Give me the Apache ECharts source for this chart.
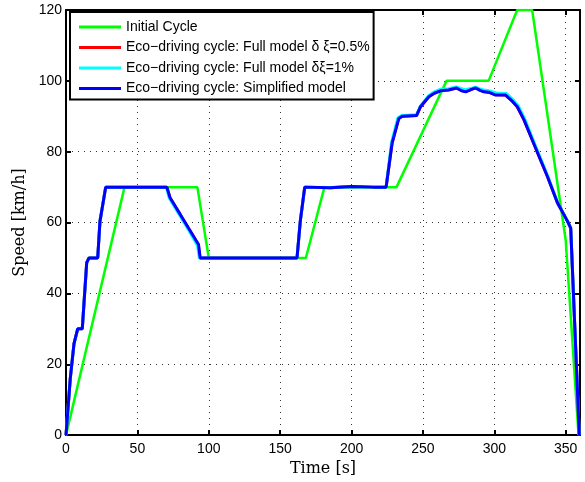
<!DOCTYPE html>
<html>
<head>
<meta charset="utf-8">
<script src="https://cdn.jsdelivr.net/npm/echarts@6/dist/echarts.min.js"></script>
<style>
  html, body { margin: 0; padding: 0; background: #fff; }
  #main { width: 585px; height: 482px; }
</style>
</head>
<body>
<div id="main"></div>
<script>
var chartDom = document.getElementById('main');
var myChart = echarts.init(chartDom);
var option;

// legend names
var seriesNames = [
  'Initial Cycle',
  'Eco\u2212driving cycle: Full model \u03b4 \u03be=0.5%',
  'Eco\u2212driving cycle: Full model \u03b4\u03be=1%',
  'Eco\u2212driving cycle: Simplified model'
];

// initial cycle (time [s], speed [km/h])
var initT = [0, 41, 92, 100, 168, 181, 231.5, 266.5, 296, 316, 326.5, 350, 359];
var initV = [0, 70, 70, 50, 50, 70, 70, 100, 100, 120, 120, 55, 0];

// full model d xi = 0.5%  (almost hidden under the blue one)
var fullT = [0, 3, 5.6, 8.2, 11.4, 14.5, 16.1, 22.2, 23.8, 27.8, 50, 70.6, 72.7, 80, 86, 92.6, 93.8, 130, 161.8, 164.1, 167.2, 185, 200, 215, 224.2, 228.3, 233, 235.4, 245.5, 248.3, 254.1, 258, 262.3, 268, 273.5, 277, 279.9, 284, 286.9, 290, 292.7, 296, 300.9, 307.9, 312, 316.1, 320.8, 326.6, 331, 337.2, 344.2, 351.2, 353.5, 359.5];
var fullV = [0, 16, 25.8, 30, 30, 48.7, 50, 50, 60.4, 70, 70, 70, 67, 62.2, 58.2, 53.8, 50, 50, 50, 60.4, 70, 69.8, 70.2, 70, 70, 82.4, 89.4, 90, 90.2, 92.7, 95.5, 96.6, 97.3, 97.5, 98, 97.3, 97, 97.6, 98, 97.4, 97, 96.8, 96.1, 96, 94.5, 92.7, 89, 83.3, 79, 73, 65.6, 60.4, 58.4, 0];

// full model d xi = 1%
var full1T = [0, 3, 5.6, 8.2, 11.4, 14.5, 16.1, 22.2, 23.8, 27.8, 50, 70.4, 72.2, 80, 86, 92.2, 93.4, 130, 161.8, 164.1, 167.2, 185, 200, 215, 224.2, 228, 232.5, 235, 245.5, 248.2, 254, 258, 262, 268, 273.5, 277, 279.9, 284, 286.9, 290, 292.7, 296, 301.5, 308.6, 312.8, 316.8, 321.3, 327, 331.3, 337.4, 344.3, 351.2, 353.5, 359.5];
var full1V = [0, 16, 25.8, 30, 30, 48.7, 50, 50, 60.4, 70, 70, 70, 67, 61.8, 57.8, 53.4, 50, 50, 50, 60.4, 70, 69.9, 70.1, 70, 70, 82.6, 89.6, 90.2, 90.4, 92.9, 95.8, 96.9, 97.6, 97.8, 98.3, 97.8, 97.5, 97.9, 98.2, 97.7, 97.4, 97.2, 96.6, 96.4, 94.8, 92.9, 89.2, 83.5, 79.2, 73.1, 65.6, 60.4, 58.4, 0];

// simplified model
var simpT = [0, 3, 5.6, 8.2, 11.4, 14.5, 16.1, 22.2, 23.8, 27.8, 50, 70.6, 72.9, 80, 86, 92.8, 94, 130, 161.8, 164.1, 167.2, 185, 200, 215, 224.2, 228.4, 233.1, 235.5, 245.5, 248.3, 254.1, 258, 262.3, 268, 273.5, 277, 279.9, 284, 286.9, 290, 292.7, 296, 300.9, 307.9, 312, 316.1, 320.8, 326.6, 331, 337.2, 344.2, 351.2, 353.5, 359.5];
var simpV = [0, 16, 25.8, 30, 30, 48.7, 50, 50, 60.4, 70, 70, 70, 67, 62.3, 58.3, 53.8, 50, 50, 50, 60.4, 70, 69.8, 70.2, 70, 70, 82.4, 89.4, 90, 90.2, 92.7, 95.5, 96.5, 97.2, 97.4, 98, 97.2, 96.9, 97.6, 98, 97.3, 96.9, 96.8, 96, 96, 94.5, 92.7, 89, 83.3, 79, 73, 65.6, 60.4, 58.4, 0];

// axis ticks
var xMin = 0, xMax = 360, xStep = 50;
var yMin = 0, yMax = 120, yStep = 20;

function zip(t, v) {
  return t.map(function (x, i) { return [x, v[i]]; });
}

var labelFont = 'Liberation Sans';
var nameFont = 'DejaVu Serif';

function baseAxis(min, max, step) {
  return {
    type: 'value',
    min: min,
    max: max,
    interval: step,
    axisLine: { show: true, onZero: false, lineStyle: { color: '#000', width: 2 } },
    axisTick: { show: true, inside: true, length: 5, lineStyle: { color: '#000', width: 2 } }
  };
}

var xBottom = baseAxis(xMin, xMax, xStep);
xBottom.position = 'bottom';
xBottom.name = 'Time [s]';
xBottom.nameLocation = 'middle';
xBottom.nameGap = 24;
xBottom.nameTextStyle = { fontFamily: nameFont, fontSize: 16, color: '#000' };
xBottom.axisLabel = { showMaxLabel: false, margin: 7, fontFamily: labelFont, fontSize: 14, color: '#000' };
xBottom.splitLine = { show: true, lineStyle: { color: '#333', width: 1, type: [1, 5] } };

var xTop = baseAxis(xMin, xMax, xStep);
xTop.position = 'top';
xTop.axisLabel = { show: false };
xTop.splitLine = { show: false };

var yLeft = baseAxis(yMin, yMax, yStep);
yLeft.position = 'left';
yLeft.name = 'Speed [km/h]';
yLeft.nameLocation = 'middle';
yLeft.nameGap = 33;
yLeft.nameTextStyle = { fontFamily: nameFont, fontSize: 16, color: '#000' };
yLeft.axisLabel = { margin: 4, fontFamily: labelFont, fontSize: 14, color: '#000' };
yLeft.splitLine = { show: true, lineStyle: { color: '#333', width: 1, type: [1, 5] } };

var yRight = baseAxis(yMin, yMax, yStep);
yRight.position = 'right';
yRight.axisLabel = { show: false };
yRight.splitLine = { show: false };

var colors = ['#00ff00', '#ff0000', '#00ffff', '#0000ff'];
var widths = [2.5, 3, 3, 3];
var dataSets = [zip(initT, initV), zip(fullT, fullV), zip(full1T, full1V), zip(simpT, simpV)];

option = {
  animation: false,
  backgroundColor: '#fff',
  grid: { left: 66, right: 5, top: 10, bottom: 45, containLabel: false },
  legend: {
    orient: 'vertical',
    left: 70,
    top: 12,
    backgroundColor: '#fff',
    borderColor: '#000',
    borderWidth: 2,
    borderRadius: 0,
    padding: [8, 4, 4, 9],
    icon: 'rect',
    itemWidth: 42,
    itemHeight: 3,
    itemGap: 6.5,
    textStyle: { fontFamily: labelFont, fontSize: 14, lineHeight: 14, color: '#000' },
    data: seriesNames
  },
  xAxis: [xBottom, xTop],
  yAxis: [yLeft, yRight],
  series: seriesNames.map(function (name, i) {
    return {
      name: name,
      type: 'line',
      symbol: 'none',
      color: colors[i],
      lineStyle: { color: colors[i], width: widths[i] },
      data: dataSets[i],
      z: 2 + i
    };
  })
};

option && myChart.setOption(option);
</script>
</body>
</html>
